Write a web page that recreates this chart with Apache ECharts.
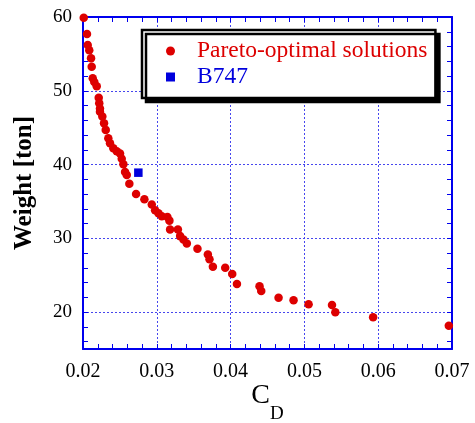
<!DOCTYPE html>
<html>
<head>
<meta charset="utf-8">
<script src="https://cdn.jsdelivr.net/npm/echarts@6/dist/echarts.min.js"></script>
<style>
html,body{margin:0;padding:0;background:#fff;}
#chart{width:475px;height:423px;}
</style>
</head>
<body>
<div id="chart"></div>
<script>
// Pareto-optimal solutions: drag coefficient C_D and weight [ton]
const paretoCD = [0.0201,0.02054,0.02064,0.02085,0.02109,0.02118,0.02132,0.02153,0.02186,0.02213,
  0.0222,0.0223,0.0223,0.02262,0.02285,0.02308,0.02343,0.02366,0.02411,0.02457,
  0.02502,0.02525,0.02547,0.0257,0.02593,0.02628,0.02719,0.02832,0.02932,0.02977,
  0.03022,0.03068,0.03144,0.03171,0.0318,0.03286,0.03316,0.03361,0.03407,0.03551,
  0.03692,0.03714,0.0376,0.03927,0.04022,0.04086,0.04392,0.04415,0.0465,0.04853,
  0.05057,0.05374,0.05419,0.05931,0.06957];
const paretoWeight = [59.9,57.7,56.2,55.5,54.4,53.25,51.7,51.2,50.6,49.05,
  48.3,47.6,47.15,46.5,45.6,44.7,43.55,42.9,42.2,41.8,
  41.5,40.8,40.05,39.0,38.6,37.4,36.0,35.3,34.6,33.8,
  33.4,33.0,32.9,32.4,31.2,31.2,30.3,29.85,29.3,28.6,
  27.8,27.15,26.15,26.0,25.15,23.8,23.5,22.85,21.95,21.6,
  21.05,20.95,19.97,19.3,18.15];
const b747CD = [0.0275];
const b747Weight = [38.9];

const seriesNames = ['Pareto-optimal solutions', 'B747'];

// axis ticks / labels
const xLabelValues = [0.02, 0.03, 0.04, 0.05, 0.06, 0.07];
const xGridValues = [0.03, 0.04, 0.05, 0.06];
const xTickValues = [0.022,0.024,0.026,0.028,0.03,0.032,0.034,0.036,0.038,0.04,
  0.042,0.044,0.046,0.048,0.05,0.052,0.054,0.056,0.058,0.06,0.062,0.064,0.066,0.068];
const yLabelValues = [20, 30, 40, 50, 60];
const yGridValues = [20, 30, 40, 50];
const yTickValues = [16,18,20,22,24,26,28,30,32,34,36,38,40,42,44,46,48,50,52,54,56,58];

const FONT = 'Liberation Serif';
const AXIS_BLUE = '#0000ee';
const GRID_BLUE = '#4646ee';
const RED = '#dd0000';
const BLUE = '#0000dd';

const paretoData = paretoCD.map((v, i) => [v, paretoWeight[i]]);
const b747Data = b747CD.map((v, i) => [v, b747Weight[i]]);

const X_MIN = 0.02, X_MAX = 0.07, Y_MIN = 15, Y_MAX = 60;

function frameAxis(extra) {
  return Object.assign({
    type: 'value',
    axisLine: { show: true, onZero: false, lineStyle: { color: AXIS_BLUE, width: 2 } },
    axisTick: { show: true, inside: true, length: 5, lineStyle: { color: AXIS_BLUE, width: 1 } },
    axisLabel: { show: false },
    splitLine: { show: false },
    minorTick: { show: false },
    minorSplitLine: { show: false }
  }, extra);
}

const chart = echarts.init(document.getElementById('chart'), null, { renderer: 'canvas' });
chart.setOption({
  backgroundColor: '#ffffff',
  animation: false,
  grid: { left: 83, right: 23, top: 17, bottom: 74, containLabel: false, outerBoundsMode: 'none' },
  legend: {
    orient: 'vertical',
    left: 142,
    top: 30,
    padding: [9, 8, 9, 24],
    itemGap: 2,
    itemWidth: 9,
    itemHeight: 9,
    backgroundColor: '#ffffff',
    borderColor: '#000000',
    borderWidth: 2.5,
    borderRadius: 0,
    shadowColor: '#000000',
    shadowBlur: 0,
    shadowOffsetX: 4,
    shadowOffsetY: 4,
    selectedMode: false,
    formatter: function (name) { return '{t|' + name + '}'; },
    textStyle: {
      fontFamily: FONT,
      fontSize: 23.5,
      rich: { t: { fontFamily: FONT, fontSize: 23.5, lineHeight: 23, padding: [0, 0, 0, 17] } }
    },
    data: [
      { name: seriesNames[0], icon: 'circle', itemStyle: { color: RED, opacity: 1 }, textStyle: { color: RED, rich: { t: { color: RED } } } },
      { name: seriesNames[1], icon: 'rect', itemStyle: { color: BLUE, opacity: 1 }, textStyle: { color: BLUE, rich: { t: { color: BLUE } } } }
    ]
  },
  xAxis: [
    frameAxis({
      position: 'bottom', min: X_MIN, max: X_MAX,
      axisTick: { show: true, inside: true, length: 5, customValues: xTickValues, lineStyle: { color: AXIS_BLUE, width: 1 } },
      axisLabel: { show: true, customValues: xLabelValues, color: '#000', fontFamily: FONT, fontSize: 20, margin: 13,
        formatter: function (v) { return v.toFixed(2); } },
      name: '{c|C}{d|D}',
      nameLocation: 'middle',
      nameGap: 32,
      nameMoveOverlap: false,
      nameTextStyle: {
        rich: {
          c: { fontFamily: FONT, fontSize: 28, color: '#000', lineHeight: 30 },
          d: { fontFamily: FONT, fontSize: 19, color: '#000', lineHeight: 30, padding: [36, 0, 0, 0] }
        }
      }
    }),
    frameAxis({ position: 'top', min: X_MIN, max: X_MAX,
      axisTick: { show: true, inside: true, length: 5, customValues: xTickValues, lineStyle: { color: AXIS_BLUE, width: 1 } } }),
    frameAxis({ position: 'bottom', min: X_MIN, max: X_MAX,
      axisLine: { show: false },
      axisTick: { show: false, customValues: xGridValues },
      splitLine: { show: true, lineStyle: { color: GRID_BLUE, width: 1, type: [2, 2] } } })
  ],
  yAxis: [
    frameAxis({
      position: 'left', min: Y_MIN, max: Y_MAX,
      axisTick: { show: true, inside: true, length: 5, customValues: yTickValues, lineStyle: { color: AXIS_BLUE, width: 1 } },
      axisLabel: { show: true, customValues: yLabelValues, color: '#000', fontFamily: FONT, fontSize: 19, margin: 11 },
      name: 'Weight [ton]',
      nameLocation: 'middle',
      nameGap: 46,
      nameMoveOverlap: false,
      nameTextStyle: { fontFamily: FONT, fontSize: 25, fontWeight: 'bold', color: '#000' }
    }),
    frameAxis({ position: 'right', min: Y_MIN, max: Y_MAX,
      axisTick: { show: true, inside: true, length: 5, customValues: yTickValues, lineStyle: { color: AXIS_BLUE, width: 1 } } }),
    frameAxis({ position: 'left', min: Y_MIN, max: Y_MAX,
      axisLine: { show: false },
      axisTick: { show: false, customValues: yGridValues },
      splitLine: { show: true, lineStyle: { color: GRID_BLUE, width: 1, type: [2, 2] } } })
  ],
  series: [
    {
      name: seriesNames[0], type: 'scatter', xAxisIndex: 0, yAxisIndex: 0,
      symbol: 'circle', symbolSize: 8.5, clip: false, z: 5,
      itemStyle: { color: RED, opacity: 1 },
      data: paretoData
    },
    {
      name: seriesNames[1], type: 'scatter', xAxisIndex: 0, yAxisIndex: 0,
      symbol: 'rect', symbolSize: 8.5, clip: false, z: 5,
      itemStyle: { color: BLUE, opacity: 1 },
      data: b747Data
    }
  ]
});
</script>
</body>
</html>
